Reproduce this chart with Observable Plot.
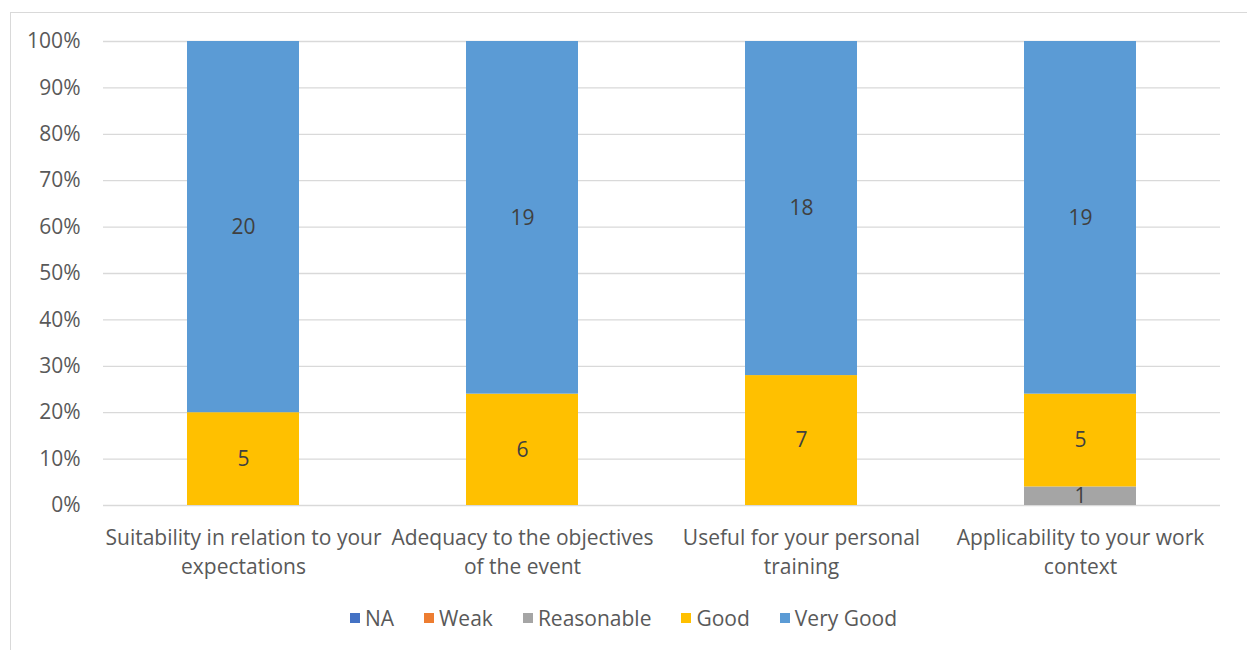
<!DOCTYPE html>
<html>
<head>
<meta charset="utf-8">
<script src="https://cdn.jsdelivr.net/npm/d3@7"></script>
<script src="https://cdn.jsdelivr.net/npm/@observablehq/plot@0.6"></script>
<style>
  body { margin: 0; background: #fff; font-family: "Open Sans", sans-serif; }
  #frame { position: absolute; left: 10px; top: 12px; width: 1300px; height: 700px; border: 1px solid #d9d9d9; box-sizing: border-box; }
  #chart { position: absolute; left: 0; top: 0; }
  #legend { position: absolute; left: 0; top: 604px; width: 1247px; display: flex; justify-content: center; font-size: 21px; color: #595959; }
  .item { display: flex; align-items: center; margin: 0 15px; }
  .sw { width: 10px; height: 10px; margin-right: 5px; }
</style>
</head>
<body>
<div id="frame"></div>
<div id="chart"></div>
<div id="legend"></div>
<script>
const questions = ["Suitability", "Adequacy", "Useful", "Applicability"];
const tickLabels = [
  "Suitability in relation to your\nexpectations",
  "Adequacy to the objectives\nof the event",
  "Useful for your personal\ntraining",
  "Applicability to your work\ncontext"
];
const ratings = ["NA", "Weak", "Reasonable", "Good", "Very Good"];
const colors = ["#4472C4", "#ED7D31", "#A5A5A5", "#FFC000", "#5B9BD5"];
const countNA = [0, 0, 0, 0];
const countWeak = [0, 0, 0, 0];
const countReasonable = [0, 0, 0, 1];
const countGood = [5, 6, 7, 5];
const countVeryGood = [20, 19, 18, 19];

const series = [countNA, countWeak, countReasonable, countGood, countVeryGood];
const data = [];
questions.forEach((q, i) => {
  ratings.forEach((r, j) => {
    if (series[j][i] > 0) data.push({q, rating: r, value: series[j][i]});
  });
});

const stackOpts = {x: "q", y: "value", z: "rating", offset: "normalize", order: ratings};

const chart = Plot.plot({
  width: 1247,
  height: 590,
  marginLeft: 103,
  marginRight: 27,
  marginTop: 41,
  marginBottom: 85,
  style: {fontFamily: "'Open Sans', sans-serif", fontSize: "21px", color: "#595959", background: "transparent"},
  x: {domain: questions, paddingInner: 0.6, paddingOuter: 0.3, label: null},
  y: {domain: [0, 1], label: null},
  color: {domain: ratings, range: colors},
  marks: [
    Plot.gridY({ticks: d3.range(0, 1.0001, 0.1), stroke: "#d9d9d9", strokeOpacity: 1, strokeWidth: 1.3}),
    Plot.barY(data, Plot.stackY({...stackOpts, fill: "rating"})),
    Plot.text(data, Plot.stackY({...stackOpts, text: "value", fill: "#404040", fontSize: 21})),
    Plot.axisY({ticks: d3.range(0, 1.0001, 0.1), tickFormat: d3.format(".0%"), tickSize: 0, tickPadding: 23, label: null, fontSize: 21, fill: "#595959"}),
    Plot.axisX({tickSize: 0, tickPadding: 19, label: null, fontSize: 21, fill: "#595959", lineHeight: 1.38,
      tickFormat: d => tickLabels[questions.indexOf(d)], textAnchor: "middle", lineWidth: 40})
  ]
});
document.getElementById("chart").appendChild(chart);

const legend = document.getElementById("legend");
ratings.forEach((r, i) => {
  const it = document.createElement("div");
  it.className = "item";
  it.innerHTML = `<span class="sw" style="background:${colors[i]}"></span><span>${r}</span>`;
  legend.appendChild(it);
});
</script>
</body>
</html>
